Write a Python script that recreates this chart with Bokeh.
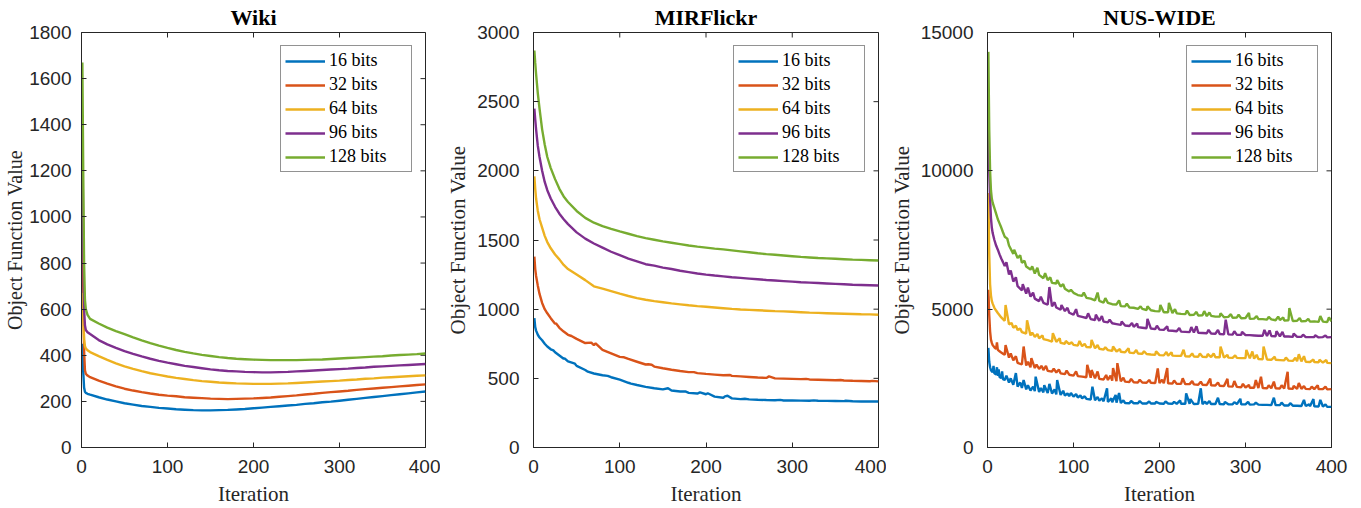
import math
from bokeh.plotting import figure
from bokeh.layouts import row
from bokeh.models import Range1d, FixedTicker, Legend, LegendItem
from bokeh.embed import file_html
from bokeh.resources import INLINE

BITS = ["16 bits", "32 bits", "64 bits", "96 bits", "128 bits"]
COLORS = ["#0072BD", "#D95319", "#EDB120", "#7E2F8E", "#77AC30"]
X_TICKS = [0, 100, 200, 300, 400]
X_MAX = 400

# ---------------- Wiki ----------------
WIKI_ITER = [1, 2, 3, 4, 5, 7] + list(range(10, 401, 10))
WIKI_16 = [450, 330, 260, 242, 237, 233,
           229, 218, 208, 200, 192, 186, 180, 176, 172, 169,
           166, 164, 162, 161, 161, 162, 163, 165, 167, 170,
           173, 176, 179, 182, 185, 189, 192, 196, 199, 203,
           207, 211, 215, 219, 223, 227, 231, 235, 239, 243]
WIKI_32 = [1040, 700, 420, 335, 320, 312,
           305, 290, 277, 265, 255, 247, 240, 234, 229, 225,
           222, 218, 216, 214, 212, 211, 210, 211, 212, 213,
           215, 217, 220, 223, 226, 230, 233, 237, 240, 243,
           246, 250, 253, 256, 259, 262, 265, 268, 271, 274]
WIKI_64 = [670, 560, 470, 440, 430, 422,
           414, 396, 380, 365, 352, 341, 331, 322, 315, 308,
           302, 297, 292, 288, 285, 282, 280, 278, 277, 276,
           276, 276, 277, 278, 280, 282, 284, 286, 288, 290,
           293, 295, 298, 300, 303, 305, 307, 309, 311, 313]
WIKI_96 = [1400, 900, 600, 530, 510, 500,
           492, 466, 447, 432, 418, 406, 395, 385, 376, 368,
           361, 354, 349, 344, 339, 335, 332, 330, 328, 327,
           326, 326, 327, 328, 330, 332, 334, 336, 338, 340,
           342, 345, 347, 350, 352, 354, 356, 358, 360, 362]
WIKI_128 = [1670, 1200, 800, 640, 600, 575,
            558, 538, 520, 505, 492, 478, 465, 453, 442, 432,
            423, 415, 408, 402, 397, 392, 388, 385, 383, 381,
            380, 379, 379, 379, 379, 380, 381, 382, 384, 386,
            388, 390, 392, 394, 396, 399, 401, 403, 405, 408]
WIKI_Y_TICKS = [0, 200, 400, 600, 800, 1000, 1200, 1400, 1600, 1800]

# ---------------- MIRFlickr ----------------
MIR_ITER = [1, 2, 3, 5, 7, 10, 13, 16, 20, 25, 30, 35] + list(range(40, 401, 10))
MIR_16 = [935, 870, 845, 815, 795, 775, 750, 730, 710, 688, 665, 642,
          622, 590, 560, 535, 522, 508, 490,
          468, 452, 438, 428, 420, 412, 405, 395, 390, 385,
          368, 360, 355, 350, 348, 345, 343, 342, 340, 340,
          339, 338, 338, 337, 336, 335, 334, 333, 333, 332]
MIR_16_BUMPS = [(23, 702), (36, 645), (48, 606), (63, 548), (86, 518), (113, 462),
                (156, 428), (176, 405), (193, 398), (202, 392), (222, 370),
                (225, 374), (245, 352), (286, 344), (325, 341), (362, 338)]
MIR_32 = [1380, 1290, 1240, 1170, 1110, 1045, 1000, 970, 935, 895, 865, 838,
          815, 785, 755, 740, 705, 680, 655,
          640, 620, 600, 585, 573, 562, 553, 545, 538, 532,
          527, 522, 518, 514, 510, 506, 503, 500, 498, 496,
          494, 492, 490, 488, 486, 484, 482, 481, 479, 478]
MIR_32_BUMPS = [(26, 898), (44, 806), (67, 758), (72, 752), (105, 652), (133, 602),
                (137, 598), (186, 545), (228, 524), (273, 514), (316, 496),
                (356, 488), (393, 482)]
MIR_64 = [1960, 1870, 1800, 1710, 1650, 1590, 1530, 1485, 1440, 1395, 1360, 1320,
          1290, 1250, 1210, 1165, 1148, 1130, 1112,
          1095, 1080, 1068, 1058, 1050, 1042, 1035, 1028, 1022, 1017,
          1012, 1007, 1002, 998, 995, 992, 989, 986, 984, 981,
          978, 975, 973, 971, 969, 967, 965, 963, 962, 960]
MIR_96 = [2450, 2370, 2300, 2180, 2100, 2000, 1920, 1860, 1800, 1740, 1690, 1650,
          1615, 1555, 1510, 1475, 1445, 1415, 1390,
          1365, 1345, 1325, 1315, 1300, 1290, 1278, 1268, 1258, 1250,
          1243, 1237, 1231, 1226, 1221, 1216, 1211, 1207, 1203, 1199,
          1195, 1192, 1189, 1186, 1183, 1180, 1177, 1175, 1173, 1171]
MIR_128 = [2870, 2780, 2700, 2560, 2450, 2300, 2190, 2100, 2020, 1940, 1870, 1815,
           1775, 1710, 1660, 1625, 1600, 1580, 1562,
           1545, 1528, 1514, 1502, 1490, 1480, 1470, 1460, 1452, 1445,
           1438, 1432, 1425, 1418, 1411, 1404, 1398, 1393, 1388, 1383,
           1378, 1374, 1370, 1367, 1364, 1361, 1358, 1356, 1354, 1352]
MIR_Y_TICKS = [0, 500, 1000, 1500, 2000, 2500, 3000]

# ---------------- NUS-WIDE ----------------
NUS_ITER = [1, 2, 3, 4, 5, 6, 8, 10, 12, 14, 16, 18] + list(range(20, 401, 5))
NUS_16 = [3600, 3100, 2900, 2800, 2750, 2720, 2680, 2640, 2590, 2550, 2510, 2470,
          2440, 2350, 2270, 2200, 2150, 2100, 2060, 2040, 2010, 1990,
          1970, 1950, 1920, 1900, 1880, 1860, 1840, 1810, 1780, 1760,
          1730, 1710, 1690, 1670, 1650, 1640, 1620, 1610, 1610, 1600,
          1600, 1600, 1590, 1590, 1590, 1590, 1590, 1580, 1590, 1580,
          1580, 1580, 1580, 1580, 1570, 1580, 1570, 1570, 1570, 1570,
          1570, 1560, 1560, 1560, 1570, 1560, 1560, 1550, 1560, 1550,
          1540, 1540, 1530, 1530, 1530, 1520, 1520, 1510, 1510, 1500,
          1500, 1490, 1490, 1480, 1480, 1470, 1470]
NUS_16_SPIKES = [(7, 2950), (11, 2900), (13, 2820), (17, 2750), (22, 2600), (27, 2500),
                 (33, 2690), (38, 2350), (42, 2440), (47, 2250), (53, 2200), (56, 2560),
                 (62, 2150), (66, 2250), (72, 2300), (78, 2100), (81, 2440), (88, 2050),
                 (93, 1950), (97, 1970), (103, 1930), (108, 1880), (113, 1850), (122, 2200),
                 (128, 1830), (133, 1780), (139, 2140), (144, 1780), (149, 1900), (153, 1970),
                 (158, 1700), (167, 1680), (177, 1680), (188, 1660), (196, 1650), (207, 1660),
                 (217, 1650), (224, 1700), (231, 1960), (236, 1750), (248, 2140), (253, 1660),
                 (258, 1680), (268, 1800), (276, 1650), (287, 1640), (294, 1760), (303, 1650),
                 (312, 1620), (333, 1800), (342, 1620), (352, 1600), (368, 1720), (374, 1560),
                 (379, 1750), (387, 1720), (393, 1560)]
NUS_32 = [5700, 4800, 4200, 3900, 3780, 3700, 3620, 3560, 3530, 3480, 3430, 3390,
          3350, 3250, 3150, 3060, 3000, 2960, 2900, 2870, 2840, 2800,
          2770, 2740, 2710, 2680, 2650, 2630, 2600, 2580, 2560, 2540,
          2520, 2500, 2480, 2460, 2440, 2420, 2400, 2390, 2380, 2370,
          2360, 2350, 2350, 2340, 2340, 2330, 2330, 2320, 2320, 2310,
          2300, 2300, 2290, 2290, 2280, 2270, 2270, 2260, 2250, 2240,
          2230, 2220, 2210, 2200, 2190, 2180, 2170, 2160, 2160, 2150,
          2150, 2140, 2140, 2140, 2130, 2130, 2130, 2120, 2120, 2120,
          2120, 2110, 2110, 2110, 2110, 2100, 2110]
NUS_32_SPIKES = [(11, 3800), (21, 3700), (27, 3400), (33, 3300), (42, 3650), (47, 3100),
                 (51, 3230), (57, 3000), (63, 2950), (68, 2950), (77, 2850), (83, 2820),
                 (92, 2780), (103, 2750), (116, 2990), (121, 2800), (128, 2750), (138, 2620),
                 (143, 2600), (146, 2870), (151, 3050), (158, 2520), (167, 2480), (177, 2450),
                 (188, 2440), (198, 2860), (203, 2450), (209, 2870), (217, 2420), (227, 2500),
                 (238, 2400), (248, 2380), (259, 2490), (268, 2350), (279, 2480), (287, 2400),
                 (297, 2300), (304, 2260), (312, 2440), (318, 2560), (327, 2250), (333, 2380),
                 (342, 2250), (349, 2740), (356, 2230), (362, 2330), (368, 2220), (377, 2200),
                 (384, 2250), (393, 2200)]
NUS_64 = [9200, 7000, 5900, 5500, 5300, 5200, 5050, 4950, 4860, 4780, 4700, 4640,
          4580, 4450, 4330, 4250, 4170, 4120, 4050, 4000, 3950, 3920,
          3880, 3830, 3820, 3780, 3750, 3740, 3710, 3680, 3660, 3630,
          3620, 3590, 3570, 3540, 3520, 3490, 3470, 3460, 3440, 3430,
          3410, 3400, 3390, 3380, 3360, 3350, 3340, 3330, 3320, 3320,
          3310, 3310, 3300, 3290, 3290, 3280, 3280, 3270, 3270, 3260,
          3260, 3250, 3250, 3240, 3240, 3230, 3230, 3220, 3210, 3200,
          3190, 3180, 3170, 3170, 3160, 3150, 3140, 3130, 3120, 3110,
          3100, 3090, 3090, 3080, 3070, 3060, 3050]
NUS_64_SPIKES = [(21, 5150), (28, 4500), (33, 4400), (38, 4300), (46, 4600), (52, 4150),
                 (58, 4100), (64, 4050), (76, 4130), (84, 3950), (91, 3850), (98, 3800),
                 (107, 3850), (113, 3750), (121, 3890), (128, 3700), (137, 3620), (146, 3650),
                 (154, 3560), (164, 3590), (173, 3520), (182, 3480), (196, 3480), (208, 3450),
                 (214, 3440), (228, 3530), (238, 3400), (247, 3400), (256, 3380), (263, 3400),
                 (271, 3650), (279, 3350), (288, 3330), (301, 3530), (308, 3470), (313, 3350),
                 (321, 3650), (334, 3280), (347, 3250), (358, 3240), (362, 3370), (368, 3300),
                 (379, 3180), (386, 3170), (394, 3160)]
NUS_96 = [11800, 10000, 9000, 8300, 7950, 7750, 7500, 7300, 7150, 6980, 6830, 6700,
          6560, 6250, 6000, 5830, 5680, 5560, 5450, 5380, 5290, 5230,
          5160, 5100, 5060, 4980, 4930, 4870, 4800, 4760, 4720, 4680,
          4640, 4610, 4580, 4550, 4520, 4490, 4460, 4430, 4410, 4390,
          4360, 4350, 4330, 4310, 4300, 4280, 4260, 4250, 4230, 4220,
          4200, 4190, 4180, 4170, 4160, 4150, 4140, 4130, 4120, 4110,
          4100, 4090, 4090, 4080, 4070, 4070, 4060, 4060, 4050, 4040,
          4040, 4030, 4030, 4020, 4020, 4010, 4010, 4000, 4000, 4000,
          3990, 3990, 3990, 3980, 3990, 3980, 3990]
NUS_96_SPIKES = [(22, 6700), (27, 6400), (33, 6150), (41, 5900), (47, 5780), (53, 5600),
                 (62, 5450), (72, 5800), (78, 5250), (86, 5150), (93, 5050), (103, 5000),
                 (117, 4850), (126, 4800), (133, 4750), (142, 4620), (156, 4550), (168, 4500),
                 (174, 4480), (186, 4650), (197, 4400), (209, 4380), (223, 4320), (237, 4350),
                 (243, 4380), (257, 4250), (268, 4250), (277, 4620), (287, 4200), (296, 4180),
                 (322, 4250), (328, 4230), (336, 4200), (343, 4180), (356, 4120), (367, 4080),
                 (381, 4060), (393, 4050)]
NUS_128 = [14300, 11500, 10000, 9300, 9000, 8850, 8650, 8450, 8250, 8100, 7950, 7780,
           7620, 7300, 7000, 6850, 6680, 6540, 6430, 6290, 6240, 6120,
           6050, 5950, 5930, 5820, 5740, 5640, 5590, 5510, 5480, 5410,
           5380, 5320, 5300, 5240, 5230, 5180, 5170, 5110, 5100, 5060,
           5050, 5010, 5010, 4970, 4960, 4930, 4920, 4890, 4890, 4860,
           4850, 4830, 4820, 4790, 4800, 4770, 4780, 4750, 4760, 4730,
           4730, 4710, 4720, 4690, 4700, 4670, 4680, 4650, 4660, 4640,
           4640, 4620, 4630, 4600, 4610, 4590, 4600, 4570, 4580, 4560,
           4570, 4550, 4560, 4540, 4550, 4530, 4560]
NUS_128_SPIKES = [(23, 7550), (31, 7150), (38, 6950), (43, 6750), (52, 6550), (58, 6500),
                  (67, 6300), (73, 6150), (81, 6050), (88, 5900), (97, 5700), (112, 5600),
                  (128, 5600), (137, 5400), (153, 5320), (162, 5200), (178, 5100), (186, 5100),
                  (201, 5150), (211, 5230), (218, 5000), (232, 4950), (243, 4900), (252, 4930),
                  (258, 4880), (271, 4850), (283, 4820), (292, 4800), (304, 4860), (313, 4750),
                  (327, 4720), (338, 4730), (344, 4700), (351, 5040), (363, 4680), (373, 4650),
                  (387, 4750), (397, 4700)]
NUS_Y_TICKS = [0, 5000, 10000, 15000]

AX_COLOR = "#262626"
TICK_FONT = "Liberation Sans"
SERIF = "Liberation Serif"


def merge(grid, base, extra=()):
    d = dict(zip(grid, base))
    d.update(dict(extra))
    xs = sorted(d)
    return xs, [d[k] for k in xs]


def style_axis(ax, ticks, label_standoff, tick_standoff, label_size="21px"):
    ax.ticker = FixedTicker(ticks=ticks)
    ax.minor_tick_line_color = None
    ax.major_tick_in = 5
    ax.major_tick_out = 0
    ax.major_tick_line_color = AX_COLOR
    ax.axis_line_color = AX_COLOR
    ax.axis_line_width = 1
    ax.major_label_text_font = TICK_FONT
    ax.major_label_text_font_size = "19px"
    ax.major_label_text_color = AX_COLOR
    ax.major_label_standoff = tick_standoff
    ax.axis_label_text_font = SERIF
    ax.axis_label_text_font_size = label_size
    ax.axis_label_text_font_style = "normal"
    ax.axis_label_text_color = AX_COLOR
    ax.axis_label_standoff = label_standoff


def panel(title, ymax, yticks, series, width, left, right,
          ylab_standoff, ytick_standoff, ylab_size):
    p = figure(width=width, height=508, x_range=Range1d(0, X_MAX), y_range=Range1d(0, ymax),
               output_backend="svg", toolbar_location=None, title=title,
               min_border_left=left, min_border_right=right,
               min_border_top=32, min_border_bottom=60)
    p.xgrid.visible = False
    p.ygrid.visible = False
    p.outline_line_color = AX_COLOR
    p.outline_line_width = 1
    p.title.align = "center"
    p.title.text_font = SERIF
    p.title.text_font_style = "bold"
    p.title.text_font_size = "22px"
    p.title.text_color = "black"
    p.title.standoff = 5
    style_axis(p.xaxis[0], X_TICKS, 6, 12)
    style_axis(p.yaxis[0], yticks, ylab_standoff, ytick_standoff, ylab_size)
    p.xaxis.axis_label = "Iteration"
    p.yaxis.axis_label = "Object Function Value"
    # inward ticks on the top and right edges of the box (MATLAB style)
    p.ray(x=X_TICKS, y=[ymax] * len(X_TICKS), length=5, angle=-math.pi / 2,
          length_units="screen", line_color=AX_COLOR, line_width=1)
    p.ray(x=[X_MAX] * len(yticks), y=yticks, length=5, angle=math.pi,
          length_units="screen", line_color=AX_COLOR, line_width=1)
    items = []
    for (xs, ys), lab, col in zip(series, BITS, COLORS):
        r = p.line(xs, ys, line_color=col, line_width=2.4)
        items.append(LegendItem(label=lab, renderers=[r]))
    lg = Legend(items=items, location="top_right", margin=13, padding=4, spacing=3,
                label_height=18, glyph_height=18, glyph_width=40, label_standoff=4,
                label_width=78, label_text_font=SERIF, label_text_font_size="18px",
                label_text_color="black", border_line_color=AX_COLOR, border_line_width=1,
                background_fill_color="white", background_fill_alpha=1)
    p.add_layout(lg)
    return p


wiki = [merge(WIKI_ITER, s) for s in (WIKI_16, WIKI_32, WIKI_64, WIKI_96, WIKI_128)]
mir = [merge(MIR_ITER, MIR_16, MIR_16_BUMPS), merge(MIR_ITER, MIR_32, MIR_32_BUMPS),
       merge(MIR_ITER, MIR_64), merge(MIR_ITER, MIR_96), merge(MIR_ITER, MIR_128)]
nus = [merge(NUS_ITER, NUS_16, NUS_16_SPIKES), merge(NUS_ITER, NUS_32, NUS_32_SPIKES),
       merge(NUS_ITER, NUS_64, NUS_64_SPIKES), merge(NUS_ITER, NUS_96, NUS_96_SPIKES),
       merge(NUS_ITER, NUS_128, NUS_128_SPIKES)]

p1 = panel("Wiki", 1800, WIKI_Y_TICKS, wiki, 440, 81, 15, 0, 10, "20px")
p2 = panel("MIRFlickr", 3000, MIR_Y_TICKS, mir, 446, 93, 8, 4, 14, "21px")
p3 = panel("NUS-WIDE", 15000, NUS_Y_TICKS, nus, 475, 101, 30, 4, 14, "21px")

layout = row(p1, p2, p3)
open("out.html", "w").write(file_html(layout, INLINE))
